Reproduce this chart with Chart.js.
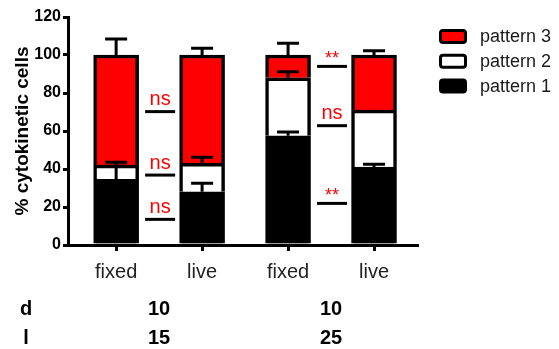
<!DOCTYPE html>
<html>
<head>
<meta charset="utf-8">
<script src="https://cdn.jsdelivr.net/npm/chart.js@4/dist/chart.umd.min.js"></script>
<style>
  html, body { margin: 0; padding: 0; background: #fff; }
  #wrap { width: 559px; height: 349px; }
</style>
</head>
<body>
<div id="wrap"><canvas id="c" width="559" height="349"></canvas></div>
<script>
// Conditions along the x axis
const categories = ['fixed', 'live', 'fixed', 'live'];

// Stacked percentages per pattern (bottom to top)
const pattern1 = [34.5, 28, 57.5, 41];
const pattern2 = [7.5, 15, 30.5, 30];
const pattern3 = [58, 57, 12, 29];

// Upper error (SD) for each stacked segment
const err1 = [7, 4.5, 2, 1.5];
const err2 = [1.5, 3.2, 3.2, 0];
const err3 = [8.4, 3.5, 6.2, 2.3];

// Group annotations below the axis (one per pair of bars)
const rowNames = ['d', 'l'];
const dValues = ['10', '10'];
const lValues = ['15', '25'];

// Significance markers between paired bars
const sigLevelsA = [70.2, 36.8, 13.5];
const sigLabelsA = ['ns', 'ns', 'ns'];
const sigLevelsB = [94, 62.8, 21.9];
const sigLabelsB = ['**', 'ns', '**'];

const FONT = '"Liberation Sans", Arial, Helvetica, sans-serif';

const toPoints = arr => arr.map((v, i) => ({ x: i, y: v }));

const errorBars = {
  id: 'errorBars',
  afterDatasetsDraw(chart) {
    const ctx = chart.ctx;
    const y = chart.scales.y;
    const errs = [err1, err2, err3];
    const stacks = [pattern1, pattern2, pattern3];
    ctx.save();
    ctx.strokeStyle = '#000';
    ctx.lineWidth = 3;
    ctx.lineCap = 'butt';
    stacks.forEach((vals, k) => {
      const meta = chart.getDatasetMeta(k);
      vals.forEach((v, i) => {
        const e = errs[k][i];
        if (!e) return;
        let base = 0;
        for (let j = 0; j <= k; j++) base += stacks[j][i];
        const x = meta.data[i].x;
        const y0 = y.getPixelForValue(base);
        const y1 = y.getPixelForValue(base + e);
        ctx.beginPath();
        ctx.moveTo(x, y0);
        ctx.lineTo(x, y1);
        ctx.moveTo(x - 11, y1);
        ctx.lineTo(x + 11, y1);
        ctx.stroke();
      });
    });
    ctx.restore();
  }
};

const annotations = {
  id: 'annotations',
  afterDraw(chart) {
    const ctx = chart.ctx;
    const xs = chart.scales.x;
    const ys = chart.scales.y;
    ctx.save();

    // significance markers
    const drawSig = (levels, labels, center) => {
      const cx = xs.getPixelForValue(center) + 1;
      levels.forEach((lv, i) => {
        const py = ys.getPixelForValue(lv);
        ctx.strokeStyle = '#000';
        ctx.lineWidth = 3;
        ctx.beginPath();
        ctx.moveTo(cx - 15, py);
        ctx.lineTo(cx + 15, py);
        ctx.stroke();
        const label = labels[i];
        ctx.font = (label === '**' ? '18px ' : '20px ') + FONT;
        ctx.fillStyle = '#ff0000';
        ctx.textAlign = 'center';
        ctx.textBaseline = 'alphabetic';
        const m = ctx.measureText(label);
        const by = py - 12 + (m.actualBoundingBoxAscent - m.actualBoundingBoxDescent) / 2;
        ctx.fillText(label, cx, by);
      });
    };
    drawSig(sigLevelsA, sigLabelsA, 0.5);
    drawSig(sigLevelsB, sigLabelsB, 2.5);

    // group rows under the axis
    ctx.font = 'bold 20px ' + FONT;
    ctx.fillStyle = '#000';
    ctx.textAlign = 'center';
    ctx.textBaseline = 'middle';
    const rows = [dValues, lValues];
    const rowY = [309, 338];
    rows.forEach((vals, r) => {
      ctx.fillText(rowNames[r], 26, rowY[r]);
      vals.forEach((v, g) => {
        ctx.fillText(v, xs.getPixelForValue(g * 2 + 0.5), rowY[r]);
      });
    });

    // legend
    const ds = chart.data.datasets.slice().reverse();
    ctx.font = '18px ' + FONT;
    ctx.textAlign = 'left';
    ctx.textBaseline = 'middle';
    ds.forEach((d, i) => {
      const cy = 36.5 + i * 24.7;
      ctx.beginPath();
      ctx.roundRect(440.5, cy - 6, 25, 12, 2.5);
      ctx.fillStyle = d.backgroundColor;
      ctx.fill();
      ctx.lineWidth = 3;
      ctx.strokeStyle = '#000';
      ctx.stroke();
      ctx.fillStyle = '#1a1a1a';
      ctx.fillText(d.label, 480, cy + 1);
    });
    ctx.restore();
  }
};

const barBorder = { top: 3.5, left: 3.5, right: 3.5, bottom: 0 };

new Chart(document.getElementById('c'), {
  type: 'bar',
  data: {
    datasets: [
      { label: 'pattern 1', data: toPoints(pattern1), backgroundColor: '#000000' },
      { label: 'pattern 2', data: toPoints(pattern2), backgroundColor: '#ffffff' },
      { label: 'pattern 3', data: toPoints(pattern3), backgroundColor: '#ff0000' }
    ].map(d => Object.assign(d, {
      borderColor: '#000', borderWidth: barBorder, borderSkipped: false, barThickness: 45
    }))
  },
  options: {
    responsive: false,
    animation: false,
    events: [],
    layout: { padding: { top: 17, right: 142, left: 0, bottom: 0 } },
    plugins: { legend: { display: false }, tooltip: { enabled: false } },
    scales: {
      x: {
        type: 'linear',
        stacked: true,
        min: -0.56,
        max: 3.5,
        offset: false,
        afterBuildTicks: s => { s.ticks = categories.map((_, i) => ({ value: i })); },
        afterFit: s => { s.height = 104; },
        ticks: {
          callback: v => categories[v],
          font: { family: FONT, size: 20 },
          color: '#222',
          padding: 9,
          maxRotation: 0,
          autoSkip: false
        },
        grid: { drawOnChartArea: false, offset: false, tickLength: 6, color: '#000', lineWidth: 3 },
        border: { color: '#000', width: 3 }
      },
      y: {
        stacked: true,
        min: 0,
        max: 120,
        afterFit: s => { s.width = 68; },
        ticks: {
          stepSize: 20,
          font: { family: FONT, size: 16, weight: 'bold' },
          color: '#000',
          padding: 2
        },
        grid: { drawOnChartArea: false, tickLength: 5, color: '#000', lineWidth: 3 },
        border: { color: '#000', width: 3 },
        title: {
          display: true,
          text: '% cytokinetic cells',
          font: { family: FONT, size: 19, weight: 'bold' },
          color: '#000',
          padding: { top: 11, bottom: 0 }
        }
      }
    }
  },
  plugins: [errorBars, annotations]
});
</script>
</body>
</html>
